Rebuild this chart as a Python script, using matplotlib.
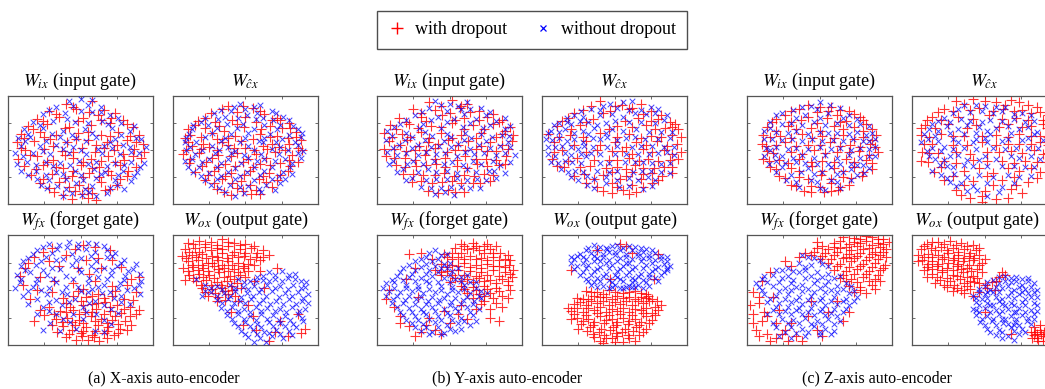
import matplotlib
matplotlib.use('Agg')
import matplotlib.pyplot as plt
from matplotlib.lines import Line2D

plt.rcParams['font.family'] = ['Liberation Serif', 'DejaVu Serif']
plt.rcParams['mathtext.fontset'] = 'stix'

# ---------------- text ----------------
panel_titles = [r'$W_{ix}$ (input gate)', r'$W_{\hat{c}x}$',
                r'$W_{fx}$ (forget gate)', r'$W_{ox}$ (output gate)']
captions = ['(a) X-axis auto-encoder', '(b) Y-axis auto-encoder', '(c) Z-axis auto-encoder']
legend_labels = ['with dropout', 'without dropout']

# ---------------- data (estimated 2-D embedding positions, 0-100 panel units) ----------------
# X-axis auto-encoder
xenc_ix_red = [(40,93),(58,95),(28,86),(47,88),(66,87),(74,84),(20,79),(35,81),(52,80),(62,82),(79,78),
    (14,72),(27,74),(42,71),(57,73),(70,75),(86,71),(9,65),(22,67),(33,64),(48,66),(64,64),(76,67),(90,64),
    (6,57),(18,58),(29,60),(41,57),(55,59),(68,57),(82,59),(93,56),(12,50),(25,51),(37,49),(51,52),(60,48),
    (73,50),(87,51),(7,42),(20,44),(31,41),(45,43),(57,42),(69,44),(80,41),(92,43),(11,35),(24,36),(38,33),
    (50,36),(63,34),(77,36),(88,34),(16,27),(30,28),(44,26),(56,29),(71,27),(82,26),(22,19),(35,20),(49,18),
    (64,20),(75,18),(32,11),(46,12),(58,10),(67,13),(44,5),(55,6),
    (45,90),(33,83),(56,85),(71,80),(24,77),(48,77),(64,78),(82,74),(17,69),(39,70),(55,67),(70,63),(84,63),
    (11,61),(25,62),(47,60),(61,55),(75,55),(88,57),(9,52),(31,54),(45,48),(66,52),(79,46),(94,48),(15,45),
    (27,39),(39,45),(52,39),(64,40),(74,39),(86,44),(19,32),(33,34),(45,31),(58,33),(69,31),(83,31),(24,23),
    (39,24),(52,25),(63,25),(77,23),(28,15),(42,16),(55,15),(70,14),(38,8),(51,9),(61,4)]
xenc_ix_blue = [(50,97),(33,90),(45,91),(55,92),(64,90),(24,83),(39,84),(58,85),(70,82),(17,76),(31,77),
    (46,76),(65,77),(78,75),(11,69),(24,70),(38,68),(53,69),(72,70),(84,68),(7,61),(15,62),(36,62),(47,61),
    (61,62),(74,60),(88,61),(9,54),(22,54),(33,55),(45,53),(66,54),(79,55),(95,53),(5,47),(17,47),(29,46),
    (42,47),(54,46),(65,47),(77,46),(90,47),(13,39),(26,39),(36,38),(49,40),(61,39),(74,38),(85,39),(94,38),
    (9,31),(19,31),(33,30),(46,31),(59,32),(67,30),(79,31),(89,30),(20,23),(28,22),(40,23),(52,22),(61,24),
    (74,22),(85,21),(27,15),(40,14),(53,14),(70,15),(80,14),(38,7),(51,8),(61,7),
    (42,95),(58,96),(28,87),(50,86),(64,85),(76,80),(22,73),(41,79),(55,75),(69,74),(87,72),(14,65),(30,65),
    (44,64),(58,66),(78,64),(92,60),(12,58),(26,58),(40,57),(54,58),(70,57),(84,53),(10,44),(24,49),(38,51),
    (50,50),(62,51),(72,52),(85,48),(6,37),(19,36),(31,35),(43,36),(55,37),(68,35),(80,36),(91,34),(14,27),
    (26,27),(38,28),(50,27),(64,28),(76,27),(87,26),(23,18),(34,17),(47,19),(58,17),(75,18),(44,10),(56,11),
    (68,10)]
xenc_cx_red = [(38,91),(55,89),(26,84),(44,85),(63,83),(72,80),(17,77),(29,76),(41,78),(57,76),(68,78),
    (80,75),(10,69),(22,70),(35,68),(49,71),(61,69),(75,70),(85,67),(8,61),(19,62),(30,60),(43,63),(55,60),
    (67,62),(79,61),(88,59),(13,54),(25,53),(38,55),(50,52),(62,54),(73,53),(86,52),(7,46),(18,47),(31,45),
    (44,47),(57,46),(70,48),(82,45),(11,38),(23,39),(36,37),(48,39),(60,37),(74,38),(86,39),(15,30),(28,31),
    (40,29),(53,31),(66,29),(79,31),(22,22),(34,23),(47,21),(59,23),(72,22),(30,14),(44,15),(57,13),(68,16),
    (40,8),(54,9),
    (48,91),(34,88),(60,86),(22,80),(50,81),(74,78),(15,73),(32,72),(44,74),(67,72),(81,70),(12,64),(27,66),
    (38,61),(60,65),(72,63),(85,62),(10,57),(21,56),(34,57),(47,58),(68,56),(80,56),(9,50),(19,51),(30,50),
    (42,52),(56,50),(65,51),(77,50),(89,50),(12,42),(27,43),(40,44),(52,42),(64,43),(80,41),(20,35),(31,34),
    (43,35),(55,34),(67,36),(81,35),(24,27),(36,26),(49,27),(62,26),(74,27),(28,19),(41,19),(53,18),(64,20),
    (35,11),(48,12),(60,9)]
xenc_cx_blue = [(46,93),(60,92),(33,87),(50,88),(68,86),(22,80),(36,81),(51,82),(62,80),(76,81),(14,73),
    (24,73),(37,74),(48,74),(63,73),(74,73),(83,72),(11,65),(27,66),(40,65),(52,66),(67,65),(80,64),(89,66),
    (8,57),(16,57),(33,58),(46,57),(59,58),(71,57),(84,57),(9,50),(20,50),(32,50),(43,49),(56,50),(68,51),
    (79,50),(90,49),(13,42),(25,42),(38,42),(52,43),(63,42),(77,42),(88,43),(10,34),(18,34),(30,34),(43,33),
    (56,34),(68,34),(81,34),(19,26),(33,26),(46,26),(60,27),(73,26),(82,28),(26,18),(39,18),(52,17),(64,18),
    (74,19),(36,11),(49,10),(61,11),
    (42,90),(56,90),(28,84),(40,86),(58,84),(71,84),(19,76),(31,79),(45,80),(57,79),(69,78),(80,78),(13,69),
    (30,70),(44,70),(56,69),(72,69),(86,69),(9,61),(22,62),(36,61),(50,61),(63,61),(75,60),(88,62),(12,53),
    (27,54),(38,53),(52,54),(62,57),(74,53),(86,55),(15,46),(29,47),(40,47),(49,45),(61,46),(73,46),(86,47),
    (8,40),(20,39),(33,38),(47,38),(58,40),(70,40),(82,38),(14,30),(25,29),(38,30),(51,30),(63,31),(76,30),
    (22,22),(30,23),(43,23),(56,22),(68,23),(77,23),(32,15),(46,16),(59,14),(70,13),(43,7)]
xenc_fx_red = [(30,88),(52,91),(70,86),(18,80),(40,82),(62,79),(12,70),(35,72),(78,71),(22,62),(56,65),
    (85,60),(10,55),(45,56),(72,54),(30,48),(88,48),(62,46),(15,42),(80,42),(40,38),(50,40),(58,37),(67,39),
    (75,36),(84,35),(36,31),(45,32),(53,30),(61,33),(70,31),(78,29),(88,28),(33,24),(41,25),(49,23),(57,26),
    (64,24),(72,23),(81,22),(38,17),(46,18),(54,16),(62,18),(69,16),(77,15),(42,10),(50,11),(58,9),(66,11),
    (73,9),(47,5),(55,5),(63,4),(28,35),(25,27),(30,18),(85,18),(45,45),(54,44),(66,43),
    (24,85),(46,87),(60,89),(14,75),(28,76),(54,77),(72,77),(8,63),(48,70),(64,70),(90,62),(32,58),(60,58),
    (82,55),(20,50),(52,51),(74,49),(38,43),(48,49),(58,45),(72,45),(86,41),(43,35),(52,36),(62,38),(70,35),
    (80,33),(32,28),(40,30),(49,28),(58,30),(66,28),(74,26),(84,26),(37,21),(44,21),(52,20),(60,22),(68,20),
    (76,19),(82,14),(34,12),(44,14),(52,13),(60,13),(68,13),(76,11),(40,7),(51,8),(59,7),(68,6),(22,32),
    (18,22),(90,32)]
xenc_fx_blue = [(28,92),(42,94),(55,93),(66,90),(20,86),(34,87),(48,88),(60,85),(74,84),(14,79),(26,80),
    (38,78),(50,79),(68,80),(80,77),(9,72),(19,73),(30,70),(44,73),(57,72),(66,70),(75,72),(86,69),(6,64),
    (15,66),(27,64),(40,63),(50,66),(62,62),(71,64),(81,63),(91,65),(8,57),(19,56),(33,57),(40,53),(55,56),
    (66,55),(77,56),(90,55),(14,49),(23,50),(37,48),(50,49),(58,51),(70,48),(82,50),(20,42),(33,41),(46,42),
    (60,40),(73,43),(91,46),(24,35),(37,36),(52,35),(71,33),(84,37),(33,28),(45,28),(61,28),(29,20),(43,21),
    (71,19),(36,13),(60,13),
    (35,91),(48,92),(61,92),(24,89),(41,89),(54,87),(68,86),(17,83),(30,84),(44,83),(57,81),(72,81),(10,76),
    (23,76),(33,77),(47,77),(61,76),(78,75),(88,74),(12,68),(24,68),(36,69),(49,69),(61,68),(72,68),(83,67),
    (9,60),(20,60),(31,60),(45,60),(56,61),(68,60),(80,59),(92,58),(5,52),(17,53),(28,52),(48,53),(62,53),
    (76,52),(87,52),(10,45),(27,46),(41,46),(55,48),(65,47),(78,45),(14,37),(28,39),(42,39),(56,38),(66,36),
    (78,39),(20,28),(28,31),(54,30),(76,29),(38,24),(52,24),(66,23),(24,14),(47,15),(66,12)]
xenc_ox_red = [(10,93),(18,95),(26,94),(34,96),(42,93),(50,92),(8,87),(15,88),(22,89),(30,88),(38,90),
    (46,87),(54,88),(62,86),(6,81),(13,82),(20,83),(27,81),(34,84),(41,82),(49,81),(57,80),(10,76),(17,77),
    (24,75),(31,77),(38,76),(45,75),(52,74),(60,77),(7,70),(14,71),(21,70),(28,72),(35,70),(42,69),(49,70),
    (11,64),(18,65),(25,64),(32,66),(39,63),(46,64),(16,58),(23,59),(30,57),(37,58),(44,56),(8,59),(20,52),
    (27,51),(34,52),(41,50),(24,45),(31,44),(38,46),(45,40),(52,36),(40,30),(48,18),(79,8),(70,12),(88,11),
    (63,52),(72,70),(66,82),(86,28),(57,14),
    (14,92),(22,92),(30,91),(38,94),(46,91),(56,90),(11,85),(18,85),(26,86),(34,87),(42,85),(50,84),(58,84),
    (9,79),(16,80),(23,79),(30,80),(37,79),(45,80),(53,78),(62,80),(13,73),(20,73),(27,75),(34,73),(41,73),
    (48,72),(56,73),(10,67),(17,68),(24,67),(31,69),(38,67),(45,66),(52,67),(14,61),(21,62),(28,61),(35,62),
    (42,60),(50,62),(19,55),(26,55),(33,55),(40,54),(47,52),(22,48),(29,47),(36,49),(43,45),(30,40),(36,41),
    (56,58),(60,67),(55,26),(74,22),(91,15),(66,4)]
xenc_ox_blue = [(66,66),(75,67),(84,65),(58,62),(45,60),(53,58),(62,59),(70,60),(79,61),(88,58),(22,55),
    (30,54),(39,55),(48,53),(56,54),(65,55),(74,54),(83,55),(91,53),(26,48),(35,47),(43,49),(51,47),(59,48),
    (68,49),(77,47),(86,48),(93,46),(30,41),(38,42),(46,40),(54,42),(62,41),(71,40),(80,42),(89,40),(33,34),
    (41,35),(49,33),(57,35),(65,34),(74,33),(82,35),(91,33),(37,27),(45,28),(53,26),(61,28),(69,27),(77,26),
    (86,28),(42,20),(50,21),(58,19),(66,21),(74,20),(83,19),(90,22),(47,13),(55,14),(63,12),(71,14),(80,13),
    (52,7),(60,6),(68,8),(76,6),(20,45),(16,60),
    (70,64),(80,64),(62,63),(49,57),(57,58),(66,58),(75,58),(84,60),(92,57),(26,52),(34,51),(43,52),(52,51),
    (61,51),(70,52),(79,51),(88,52),(22,49),(30,45),(39,45),(47,44),(55,45),(64,45),(73,44),(82,45),(90,43),
    (34,38),(42,38),(50,38),(59,38),(67,37),(76,37),(85,37),(93,38),(37,31),(45,31),(53,30),(61,31),(70,31),
    (78,30),(87,31),(41,24),(49,24),(57,23),(65,24),(73,23),(81,23),(89,25),(45,17),(53,17),(61,16),(69,17),
    (77,17),(85,16),(50,10),(58,10),(66,11),(74,10),(82,9),(64,3),(56,3)]

# Y-axis auto-encoder
yenc_ix_red = [(36,94),(52,96),(62,93),(25,88),(40,87),(57,89),(70,86),(15,80),(30,81),(45,82),(60,80),
    (76,81),(86,78),(9,73),(22,74),(37,72),(52,75),(66,73),(80,74),(92,71),(5,66),(17,65),(30,67),(44,66),
    (58,64),(72,66),(86,65),(8,58),(21,59),(35,57),(49,59),(63,58),(78,57),(93,58),(12,51),(26,50),(40,52),
    (54,50),(68,51),(82,49),(6,44),(19,43),(33,45),(47,43),(61,44),(75,42),(89,44),(13,36),(27,35),(41,37),
    (55,35),(69,37),(84,36),(18,28),(32,27),(46,29),(60,27),(74,28),(24,20),(38,19),(52,21),(66,19),(78,21),
    (35,12),(49,13),(60,11),
    (44,91),(58,91),(30,84),(50,84),(64,85),(80,83),(20,76),(34,77),(54,78),(70,78),(84,76),(13,69),(28,70),
    (44,71),(60,69),(74,69),(88,68),(10,62),(23,62),(36,61),(52,61),(68,61),(82,62),(94,64),(16,55),(29,54),
    (42,56),(56,55),(72,54),(86,55),(5,51),(20,49),(34,50),(48,48),(61,50),(76,49),(90,51),(12,43),(26,41),
    (40,42),(55,41),(68,42),(82,41),(19,34),(34,36),(47,34),(62,33),(76,35),(88,37),(25,28),(40,27),(53,26),
    (67,26),(80,27),(30,21),(45,20),(58,19),(71,19),(42,10),(54,11)]
yenc_ix_blue = [(44,92),(56,91),(31,85),(48,86),(64,88),(78,85),(20,78),(37,78),(53,79),(68,79),(82,77),
    (12,71),(29,70),(44,70),(59,71),(73,70),(88,69),(10,63),(24,62),(38,63),(51,62),(65,61),(79,62),(91,63),
    (15,55),(28,55),(43,54),(56,56),(70,55),(85,54),(7,48),(20,47),(34,48),(47,47),(61,48),(74,47),(88,47),
    (11,40),(25,40),(39,40),(52,39),(66,40),(80,40),(92,39),(18,32),(35,32),(48,31),(62,32),(77,31),(88,29),
    (24,24),(41,23),(55,24),(69,23),(82,24),(30,16),(44,15),(58,16),(71,15),(40,9),(53,8),
    (40,95),(50,93),(62,94),(36,89),(58,88),(72,89),(26,82),(42,81),(60,83),(75,82),(88,80),(16,74),(32,74),
    (48,76),(64,75),(78,73),(92,72),(7,68),(20,66),(33,67),(48,65),(61,66),(72,65),(86,64),(6,59),(19,59),
    (33,59),(46,58),(60,59),(75,58),(90,57),(11,52),(24,52),(37,53),(51,53),(64,51),(78,52),(92,53),(14,45),
    (28,45),(41,46),(55,44),(67,46),(82,45),(95,45),(8,37),(21,37),(32,37),(46,37),(59,36),(72,37),(85,36),
    (14,30),(28,30),(41,30),(55,29),(68,30),(81,31),(20,22),(34,22),(48,23),(62,22),(75,22),(37,15),(51,16),
    (64,15),(47,11)]
yenc_cx_red = [(40,95),(55,92),(68,93),(28,87),(47,86),(60,88),(75,86),(18,80),(35,79),(66,80),(80,79),
    (88,76),(10,72),(26,73),(52,72),(72,73),(85,70),(94,69),(4,65),(19,64),(40,66),(60,65),(75,63),(90,64),
    (8,57),(30,58),(50,57),(65,57),(79,58),(93,56),(14,50),(38,50),(55,49),(70,51),(84,50),(96,48),(7,42),
    (24,43),(46,41),(60,43),(73,42),(88,41),(15,34),(33,35),(52,34),(64,36),(77,33),(90,34),(22,26),(42,27),
    (58,26),(70,28),(83,26),(30,19),(48,19),(62,18),(76,19),(42,12),(56,13),(65,11),
    (34,91),(50,91),(62,89),(22,84),(42,84),(70,83),(82,82),(14,77),(30,76),(57,77),(75,77),(92,74),(20,69),
    (46,69),(62,71),(78,69),(90,71),(12,62),(28,62),(52,62),(68,61),(82,62),(96,62),(22,55),(40,55),(58,53),
    (72,55),(86,54),(8,48),(30,48),(48,49),(62,46),(76,48),(90,46),(18,40),(36,41),(52,41),(67,40),(80,40),
    (94,42),(10,35),(26,34),(44,33),(58,32),(70,33),(84,34),(29,28),(48,30),(62,30),(76,29),(90,29),(36,23),
    (54,23),(68,23),(80,22),(38,16),(52,16),(70,16),(48,10),(60,9)]
yenc_cx_blue = [(47,93),(62,95),(34,88),(52,89),(68,87),(80,88),(22,82),(40,82),(56,81),(72,83),(86,82),
    (12,75),(20,74),(32,76),(44,75),(60,76),(78,75),(6,68),(16,69),(28,68),(36,70),(48,69),(65,69),(82,67),
    (3,60),(12,61),(22,60),(35,61),(45,62),(58,61),(71,60),(88,61),(9,53),(20,53),(29,54),(45,53),(62,53),
    (76,54),(91,53),(4,46),(16,47),(27,46),(34,47),(50,46),(66,46),(80,47),(91,45),(11,38),(21,39),(40,38),
    (57,39),(70,39),(82,37),(18,30),(28,30),(46,30),(63,30),(75,31),(88,29),(25,22),(36,23),(52,22),(66,22),
    (78,22),(36,15),(53,16),(70,14),
    (42,91),(56,94),(27,86),(40,87),(60,87),(75,90),(17,80),(28,81),(48,83),(64,84),(78,84),(8,73),(17,76),
    (26,77),(38,73),(50,77),(68,76),(84,78),(4,66),(12,67),(22,66),(32,65),(44,66),(56,68),(74,67),(90,67),
    (7,59),(17,58),(28,57),(40,60),(52,59),(64,62),(80,60),(4,53),(14,54),(25,51),(35,53),(52,54),(68,54),
    (84,53),(9,44),(20,45),(30,44),(40,46),(58,46),(74,46),(86,48),(6,39),(16,40),(27,38),(46,38),(64,39),
    (76,38),(88,38),(13,32),(23,31),(38,31),(52,31),(69,31),(82,30),(20,25),(31,26),(44,25),(60,24),(73,25),
    (31,18),(44,19),(60,17),(76,17)]
yenc_fx_red = [(58,92),(66,93),(74,90),(62,87),(70,86),(78,87),(52,84),(85,84),(48,80),(56,80),(64,81),
    (72,79),(80,80),(88,78),(44,74),(52,73),(60,75),(68,73),(76,74),(84,72),(91,73),(40,68),(48,67),(56,68),
    (64,67),(72,66),(80,68),(88,66),(54,61),(62,60),(70,61),(78,59),(86,60),(93,62),(58,54),(66,53),(74,54),
    (82,52),(90,55),(62,47),(70,46),(78,47),(86,45),(74,40),(82,38),(68,33),(84,22),(30,84),(38,78),(26,70),
    (20,60),(8,50),(12,35),(16,26),(22,17),(30,12),(40,14),(50,20),(56,28),(46,31),(36,25),(28,44),(62,24),
    (60,90),(68,90),(76,92),(54,88),(66,88),(82,90),(58,84),(74,84),(80,84),(90,82),(46,83),(52,78),(60,78),
    (68,78),(76,77),(84,77),(92,77),(48,71),(56,72),(64,71),(72,70),(80,72),(88,71),(94,68),(44,64),(52,64),
    (60,64),(68,63),(76,64),(84,63),(92,65),(50,57),(58,58),(66,57),(74,58),(82,56),(90,58),(60,51),(68,50),
    (76,51),(84,49),(92,50),(66,43),(74,45),(80,43),(90,43),(78,33),(72,37),(86,35),(78,25),(22,83),(44,66),
    (16,20),(26,8),(44,10),(34,18),(6,42),(58,36)]
yenc_fx_blue = [(40,86),(48,83),(34,80),(42,78),(26,76),(34,74),(50,75),(18,70),(26,68),(36,68),(44,70),
    (52,67),(14,63),(22,62),(30,61),(38,63),(46,61),(54,60),(62,64),(6,56),(12,57),(20,55),(28,54),(36,56),
    (44,54),(52,53),(60,55),(68,57),(8,49),(16,48),(24,49),(32,47),(40,48),(48,46),(56,48),(64,47),(72,49),
    (11,42),(19,41),(27,42),(35,40),(43,41),(51,39),(59,41),(67,40),(14,35),(22,34),(30,33),(38,35),(46,33),
    (54,34),(62,35),(70,33),(18,27),(26,26),(34,28),(42,26),(50,27),(58,25),(66,27),(24,20),(32,19),(40,21),
    (48,18),(56,20),(64,18),(30,13),(38,12),(46,11),(54,13),(72,43),
    (36,84),(44,82),(30,78),(38,76),(46,74),(22,73),(30,71),(40,72),(48,70),(56,70),(16,66),(24,65),(34,65),
    (42,66),(50,64),(58,62),(10,59),(18,59),(26,58),(34,58),(42,57),(50,57),(58,58),(64,57),(4,52),(12,52),
    (20,52),(28,51),(36,51),(44,50),(52,50),(60,51),(68,52),(76,47),(6,45),(14,45),(22,45),(30,44),(38,44),
    (46,43),(54,43),(62,44),(70,45),(10,38),(18,38),(26,37),(34,37),(42,38),(50,36),(58,37),(66,37),(16,30),
    (24,30),(32,30),(40,31),(48,29),(56,31),(64,30),(20,23),(28,23),(36,24),(44,23),(52,23),(60,22),(68,22),
    (26,16),(34,16),(42,16),(50,15),(58,15),(36,10),(44,10)]
yenc_ox_red = [(30,49),(38,48),(46,50),(56,47),(64,49),(72,46),(24,43),(32,42),(40,44),(48,42),(56,43),
    (64,42),(72,43),(79,40),(22,37),(30,36),(38,38),(46,36),(54,37),(62,36),(70,38),(78,35),(20,31),(28,30),
    (36,32),(44,30),(52,31),(60,30),(68,32),(76,29),(24,25),(32,24),(40,26),(48,24),(56,25),(64,24),(72,26),
    (27,19),(35,18),(43,20),(51,18),(59,19),(67,18),(74,20),(31,13),(39,12),(47,14),(55,12),(63,13),(70,12),
    (36,7),(44,6),(52,8),(60,6),(42,2),(50,3),(54,92),(58,90),(62,84),(47,60),(80,83),(20,68),(38,86),(77,60),
    (73,45),
    (34,48),(42,46),(50,48),(60,48),(68,47),(28,42),(36,45),(44,44),(52,45),(60,44),(68,44),(76,42),(26,39),
    (34,40),(42,40),(50,39),(58,40),(66,40),(74,40),(24,34),(32,34),(40,35),(48,33),(56,34),(64,33),(72,34),
    (80,32),(22,28),(30,27),(38,29),(46,27),(54,28),(62,27),(70,29),(78,27),(28,22),(36,21),(44,23),(52,21),
    (60,22),(68,21),(76,23),(25,15),(33,16),(41,15),(49,16),(57,15),(65,16),(72,15),(35,10),(43,9),(51,11),
    (59,9),(67,9),(40,4),(48,6),(56,3),(64,4),(18,34),(20,24),(82,36)]
yenc_ox_blue = [(32,88),(40,89),(48,90),(56,88),(64,89),(72,87),(26,83),(34,84),(42,83),(50,85),(58,83),
    (66,84),(74,82),(82,81),(22,78),(30,78),(38,79),(46,77),(54,79),(62,78),(70,79),(78,77),(86,76),(24,72),
    (32,73),(40,71),(48,73),(56,72),(64,71),(72,73),(80,71),(88,72),(28,66),(36,67),(44,65),(52,67),(60,66),
    (68,65),(76,67),(84,66),(30,60),(38,61),(46,59),(54,60),(62,61),(70,59),(78,61),(34,55),(42,54),(50,55),
    (58,53),(66,55),(74,54),(48,53),(56,52),(64,53),(20,80),(45,87),(68,76),(74,62),(36,57),(62,57),(52,62),
    (40,76),(58,75),(86,70),
    (36,91),(44,88),(52,91),(60,90),(68,88),(76,86),(30,86),(38,86),(46,85),(54,86),(62,86),(70,85),(78,84),
    (86,80),(24,81),(28,80),(36,81),(42,80),(50,82),(58,80),(66,81),(74,79),(82,78),(20,75),(28,75),(36,76),
    (44,75),(52,76),(60,75),(76,75),(84,74),(22,69),(30,70),(38,69),(46,70),(54,69),(62,69),(70,70),(78,69),
    (86,68),(26,64),(34,64),(42,63),(50,64),(58,64),(66,63),(74,65),(82,64),(32,58),(40,58),(48,57),(56,58),
    (64,59),(72,57),(80,58),(38,53),(46,52),(54,52),(62,53),(70,52),(60,54)]

# Z-axis auto-encoder
zenc_ix_red = [(42,92),(58,90),(30,86),(48,85),(64,87),(74,83),(20,79),(37,78),(55,80),(68,77),(80,78),
    (14,71),(28,72),(44,70),(60,72),(74,71),(86,69),(11,64),(23,63),(38,65),(52,63),(66,64),(80,62),(89,64),
    (10,56),(26,57),(42,55),(57,57),(71,55),(85,56),(14,49),(30,48),(46,50),(62,48),(77,49),(90,48),(11,42),
    (22,41),(36,42),(52,40),(68,42),(82,41),(16,34),(30,33),(45,35),(60,33),(74,34),(86,32),(22,26),(36,25),
    (51,27),(66,25),(79,26),(30,18),(44,17),(58,19),(70,18),(39,12),(53,11),(63,13),
    (50,90),(36,88),(56,86),(70,86),(26,82),(42,81),(62,82),(78,81),(17,76),(30,76),(48,75),(64,76),(82,74),
    (20,68),(34,69),(50,68),(66,69),(80,68),(16,62),(30,61),(45,61),(60,61),(74,60),(86,59),(13,54),(20,55),
    (34,54),(50,55),(64,54),(78,53),(88,53),(18,47),(38,46),(54,47),(70,48),(84,45),(15,40),(28,38),(44,39),
    (60,39),(74,39),(86,38),(20,32),(36,31),(52,31),(66,31),(80,30),(26,24),(42,23),(58,23),(72,24),(34,17),
    (50,16),(64,16),(44,11),(58,12)]
zenc_ix_blue = [(50,94),(38,90),(24,84),(40,82),(56,84),(70,82),(16,76),(30,75),(46,76),(62,75),(78,74),
    (12,68),(20,67),(34,68),(50,67),(62,66),(76,67),(86,66),(17,60),(31,60),(45,60),(59,59),(73,60),(84,58),
    (13,52),(20,53),(34,52),(50,53),(64,52),(78,52),(88,53),(19,45),(38,45),(54,45),(70,45),(84,44),(15,37),
    (26,38),(40,38),(56,37),(72,37),(80,36),(20,30),(37,30),(52,30),(66,30),(81,29),(27,22),(44,22),(58,22),
    (72,22),(36,16),(50,15),(64,15),
    (44,91),(57,92),(32,87),(48,88),(64,89),(20,82),(34,80),(50,80),(66,80),(76,79),(24,74),(38,73),(54,73),
    (70,73),(84,72),(16,70),(28,66),(42,65),(56,66),(70,65),(82,64),(12,60),(24,59),(38,58),(52,58),(66,58),
    (80,58),(88,60),(16,50),(28,51),(42,51),(58,51),(72,50),(84,51),(12,44),(24,44),(32,43),(46,43),(62,43),
    (78,43),(88,44),(20,40),(34,39),(48,37),(64,37),(76,36),(24,34),(42,33),(58,34),(72,32),(84,33),(30,27),
    (46,28),(62,28),(76,27),(34,20),(48,20),(62,20),(54,13)]
zenc_cx_red = [(30,95),(42,97),(58,94),(68,96),(80,92),(22,88),(46,89),(63,88),(76,87),(88,85),(14,81),
    (32,81),(53,82),(72,80),(90,78),(9,73),(25,74),(44,73),(66,74),(82,72),(93,70),(6,64),(20,65),(36,63),
    (58,64),(74,65),(88,63),(8,56),(28,55),(48,57),(66,56),(82,56),(94,55),(7,48),(18,47),(40,46),(60,48),
    (76,47),(90,46),(11,39),(30,38),(52,40),(70,38),(86,39),(15,30),(36,31),(56,29),(74,31),(88,30),(22,22),
    (42,21),(62,22),(80,20),(30,13),(50,12),(68,14),(76,10),(40,6),(58,5),(48,2),
    (36,93),(50,95),(64,92),(74,94),(86,90),(18,85),(28,86),(40,87),(56,86),(70,86),(82,84),(94,82),(10,78),
    (20,78),(42,79),(62,79),(80,78),(6,70),(16,70),(38,70),(60,71),(76,71),(90,74),(12,62),(28,63),(48,63),
    (66,62),(82,63),(94,62),(14,56),(38,55),(58,55),(74,56),(88,57),(12,47),(30,48),(52,48),(68,49),(84,50),
    (94,47),(6,40),(22,40),(42,41),(62,40),(78,40),(92,39),(20,34),(46,33),(66,33),(82,33),(28,26),(52,26),
    (70,25),(86,24),(36,18),(56,18),(72,18),(34,8),(48,7),(66,6)]
zenc_cx_blue = [(36,92),(50,91),(64,90),(28,84),(40,85),(56,84),(70,83),(82,82),(18,77),(26,76),(40,77),
    (48,76),(62,77),(78,76),(12,69),(18,68),(32,69),(52,68),(58,70),(74,69),(86,67),(11,60),(28,60),(44,60),
    (50,61),(66,60),(80,61),(14,52),(22,53),(36,52),(56,52),(72,52),(87,52),(12,44),(26,44),(32,45),(50,44),
    (68,44),(82,44),(19,36),(24,35),(42,35),(62,35),(78,34),(20,27),(29,28),(46,27),(66,27),(82,26),(26,20),
    (34,19),(52,19),(70,19),(38,12),(45,13),(60,11),
    (44,92),(58,90),(32,88),(48,86),(62,86),(76,84),(22,80),(34,79),(54,78),(70,79),(84,77),(14,74),(24,72),
    (38,73),(46,71),(66,72),(80,71),(8,65),(16,63),(26,66),(36,65),(44,66),(54,65),(68,66),(84,65),(6,57),
    (18,58),(32,57),(42,57),(52,57),(62,58),(76,59),(90,59),(10,49),(20,49),(28,51),(44,51),(64,51),(80,52),
    (16,42),(22,41),(38,41),(46,41),(58,42),(74,43),(88,42),(14,31),(28,34),(36,36),(52,35),(70,35),(84,34),
    (24,24),(38,25),(56,25),(74,25),(30,17),(42,17),(62,16),(52,7)]
zenc_fx_red = [(66,98),(74,97),(82,99),(90,96),(60,93),(70,92),(78,93),(86,91),(94,92),(48,88),(56,87),
    (64,88),(72,86),(80,87),(88,85),(96,87),(44,82),(52,81),(60,82),(68,80),(76,81),(84,80),(92,82),(56,75),
    (64,74),(72,76),(80,74),(88,75),(95,73),(60,68),(68,67),(76,69),(84,67),(92,68),(64,61),(72,60),(80,62),
    (88,60),(70,54),(78,53),(86,55),(82,47),(74,48),(30,72),(36,80),(16,66),(10,58),(4,48),(8,38),(4,28),
    (10,22),(6,14),(14,10),(20,6),(28,4),(34,8),(12,30),(20,20),(42,26),(62,40),(56,30),(48,14),(26,14),
    (66,22),(18,44),
    (70,100),(78,96),(86,98),(94,96),(64,95),(74,94),(82,95),(90,93),(98,94),(52,90),(60,89),(68,89),(76,90),
    (84,88),(92,89),(46,85),(54,84),(62,85),(70,83),(78,84),(86,83),(94,85),(50,78),(58,78),(66,79),(74,79),
    (82,77),(90,78),(96,80),(62,72),(70,71),(78,72),(86,71),(94,70),(66,64),(74,65),(82,65),(90,64),(68,58),
    (76,57),(84,58),(92,58),(78,50),(88,51),(40,84),(26,76),(48,94),(8,44),(2,36),(14,26),(4,20),(8,8),
    (16,4),(24,10),(38,4),(30,20),(52,8),(70,30),(44,40),(22,32)]
zenc_fx_blue = [(42,80),(50,77),(36,75),(44,73),(56,72),(24,68),(32,67),(40,68),(48,66),(56,65),(64,63),
    (18,64),(10,60),(24,61),(32,59),(40,61),(48,59),(56,58),(68,56),(8,53),(18,54),(26,52),(34,53),(42,51),
    (50,52),(58,50),(66,51),(74,49),(12,46),(20,45),(28,46),(36,44),(44,45),(52,43),(60,44),(68,42),(76,44),
    (14,39),(22,38),(30,39),(38,37),(46,38),(54,36),(62,37),(70,36),(18,32),(26,31),(34,32),(42,30),(50,31),
    (58,29),(66,30),(24,24),(32,23),(40,25),(48,22),(56,24),(64,22),(20,16),(30,16),(38,15),(46,17),(54,15),
    (60,13),(22,8),(40,8),(50,9),
    (38,82),(46,79),(52,74),(40,71),(28,70),(20,68),(36,66),(44,63),(52,62),(60,61),(12,63),(28,63),(6,56),
    (14,57),(22,57),(30,56),(38,55),(46,56),(54,55),(62,54),(72,54),(10,50),(22,49),(30,50),(38,49),(46,48),
    (54,48),(62,48),(70,47),(16,42),(26,42),(34,41),(42,41),(50,41),(58,40),(66,40),(74,40),(20,35),(28,35),
    (36,34),(44,34),(52,33),(60,33),(68,33),(14,28),(22,28),(30,28),(38,28),(46,27),(54,27),(62,26),(18,20),
    (28,20),(36,20),(44,19),(52,19),(60,19),(26,12),(34,11),(42,12),(50,12),(58,10),(30,6)]
zenc_ox_red = [(10,92),(18,94),(26,95),(34,93),(42,91),(6,87),(13,88),(20,89),(28,88),(36,87),(44,86),
    (4,82),(11,83),(18,82),(25,84),(32,82),(39,81),(46,82),(7,77),(14,76),(21,78),(28,77),(35,76),(42,77),
    (48,75),(10,71),(17,72),(24,70),(31,72),(38,70),(45,69),(14,65),(21,66),(28,64),(35,66),(42,63),(19,59),
    (26,58),(33,60),(40,58),(24,53),(31,52),(38,54),(46,56),(36,47),(42,45),(50,55),(55,57),(60,62),(62,66),
    (57,50),(84,16),(88,14),(86,10),(90,8),(83,6),(87,4),(91,12),(85,12),(50,30),(68,10),
    (14,94),(22,92),(30,91),(38,90),(46,88),(8,90),(16,86),(24,86),(32,85),(40,84),(8,80),(14,80),(22,80),
    (29,79),(36,79),(43,79),(50,78),(4,76),(11,74),(18,74),(25,75),(32,74),(39,73),(46,73),(8,68),(14,69),
    (21,68),(28,68),(34,69),(41,67),(48,66),(10,62),(17,62),(24,61),(31,63),(38,62),(45,61),(16,56),(22,55),
    (29,55),(36,56),(43,57),(28,49),(34,50),(40,51),(46,48),(52,52),(58,58),(88,18),(84,9),(90,4),(86,6),
    (82,12),(89,10),(64,64)]
zenc_ox_blue = [(60,62),(68,61),(76,60),(52,57),(60,56),(68,57),(76,55),(84,56),(46,51),(54,50),(62,52),
    (70,50),(78,51),(86,50),(42,45),(50,46),(58,44),(66,45),(74,46),(82,44),(44,39),(52,38),(60,40),(68,38),
    (76,39),(84,38),(42,33),(50,34),(58,32),(66,33),(74,34),(82,32),(44,27),(52,26),(60,28),(68,26),(76,27),
    (84,28),(47,21),(55,22),(63,20),(71,21),(79,22),(52,15),(60,14),(68,16),(76,15),(58,9),(66,8),(74,10),
    (48,42),(56,48),(64,36),(72,30),(80,47),(62,24),(70,18),(56,36),
    (64,63),(72,62),(80,61),(56,59),(64,58),(72,58),(80,58),(50,54),(58,53),(66,54),(74,53),(82,53),(46,48),
    (52,48),(60,48),(68,48),(76,48),(84,48),(44,43),(52,43),(62,42),(70,43),(78,42),(86,44),(46,36),(54,36),
    (62,37),(70,36),(78,36),(86,36),(46,30),(54,30),(62,31),(70,30),(78,30),(86,31),(48,24),(56,24),(64,24),
    (72,24),(80,25),(50,18),(58,18),(66,19),(74,18),(82,19),(54,12),(62,12),(70,13),(78,12),(62,6),(70,5),
    (44,32),(84,24)]

groups = [
    [(xenc_ix_red, xenc_ix_blue), (xenc_cx_red, xenc_cx_blue), (xenc_fx_red, xenc_fx_blue), (xenc_ox_red, xenc_ox_blue)],
    [(yenc_ix_red, yenc_ix_blue), (yenc_cx_red, yenc_cx_blue), (yenc_fx_red, yenc_fx_blue), (yenc_ox_red, yenc_ox_blue)],
    [(zenc_ix_red, zenc_ix_blue), (zenc_cx_red, zenc_cx_blue), (zenc_fx_red, zenc_fx_blue), (zenc_ox_red, zenc_ox_blue)],
]

# ---------------- layout ----------------
W, H = 1045, 389
fig = plt.figure(figsize=(W / 100, H / 100), dpi=100)

col_left_px = [[8, 173], [377, 542], [747, 912]]
row_px = [(96, 204), (235, 345)]   # (top, bottom)
panel_w_px = 145
RED = '#ff0000'
BLUE = '#0000ff'

for g, panels in enumerate(groups):
    for k, (red_pts, blue_pts) in enumerate(panels):
        r, c = divmod(k, 2)
        top, bot = row_px[r]
        left = col_left_px[g][c]
        ax = fig.add_axes([left / W, 1 - bot / H, panel_w_px / W, (bot - top) / H])
        rx = [p[0] for p in red_pts]; ry = [p[1] for p in red_pts]
        bx = [p[0] for p in blue_pts]; by = [p[1] for p in blue_pts]
        ax.scatter(rx, ry, marker='+', s=48, c=RED, linewidths=0.8, alpha=0.8, zorder=2)
        ax.scatter(bx, by, marker='x', s=16, c=BLUE, linewidths=0.7, alpha=0.75, zorder=3)
        ax.set_xlim(0, 100)
        ax.set_ylim(0, 100)
        ax.set_xticks([25, 50, 75])
        ax.set_yticks([25, 50, 75])
        ax.tick_params(direction='in', length=2.5, width=0.6, colors='#555555',
                       top=True, right=True, labelbottom=False, labelleft=False)
        for sp in ax.spines.values():
            sp.set_color('#555555')
            sp.set_linewidth(0.9)
        # the last column runs past the figure edge; keep its long title inside
        tx = 0.45 if (g == 2 and k == 3) else 0.5
        ax.set_title(panel_titles[k], fontsize=13, pad=7, x=tx)

for g, cap in enumerate(captions):
    cx = [164, 507, 877][g]
    fig.text(cx / W, 1 - 378 / H, cap, ha='center', va='center', fontsize=11.5)

handles = [Line2D([], [], linestyle='none', marker='+', color=RED, markersize=9, markeredgewidth=1.0),
           Line2D([], [], linestyle='none', marker='x', color=BLUE, markersize=5, markeredgewidth=0.9)]
leg = fig.legend(handles, legend_labels, loc='center', bbox_to_anchor=(532 / W, 1 - 30 / H),
                 ncol=2, frameon=True, fancybox=False, fontsize=13, handlelength=1.0,
                 handletextpad=0.5, columnspacing=1.5, borderpad=0.6)
leg.get_frame().set_edgecolor('#222222')
leg.get_frame().set_linewidth(1.0)

fig.savefig('out.png', dpi=100)
